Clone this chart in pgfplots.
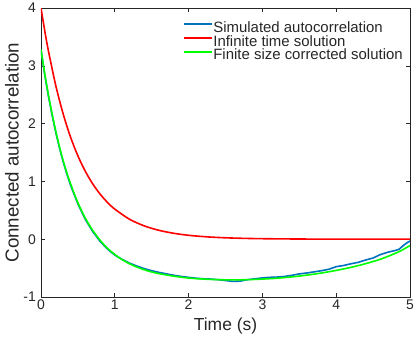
\documentclass[border=0pt]{standalone}
\usepackage{fontspec}
\setmainfont{Liberation Sans}
\usepackage{pgfplots}
\pgfplotsset{compat=1.18}
\definecolor{mblue}{rgb}{0,0.447,0.741}
\definecolor{axgray}{RGB}{38,38,38}
\begin{document}
\begin{tikzpicture}
\useasboundingbox (-41bp,-42bp) rectangle (374bp,297bp);
\begin{axis}[
  scale only axis, width=369bp, height=289bp,
  xmin=0, xmax=5, ymin=-1, ymax=4,
  xtick={0,1,2,3,4,5}, ytick={-1,0,1,2,3,4},
  tick align=inside, major tick length=4bp,
  axis line style={axgray, line width=0.6bp},
  every tick/.style={axgray, line width=0.6bp},
  tick label style={font=\fontsize{14}{16}\selectfont, text=axgray},
  /pgf/number format/assume math mode=true,
  xticklabel style={inner sep=0pt, anchor=north, yshift=-3bp},
  yticklabel style={inner sep=0pt, anchor=east, xshift=-5bp},
  xlabel={Time (s)}, ylabel={Connected autocorrelation},
  xlabel style={at={(axis description cs:0.5,-0.0727)}, anchor=north, inner sep=0pt,
    font=\fontsize{17.5}{20}\selectfont, text=axgray},
  ylabel style={at={(axis description cs:-0.0786,0.5)}, anchor=center, inner sep=0pt,
    font=\fontsize{18.8}{21}\selectfont, text=axgray},
  legend style={at={(rel axis cs:0.385,0.952)}, anchor=north west, draw=none, fill=none,
    inner sep=0pt, row sep=0pt, font=\fontsize{15}{17}\selectfont, text=axgray,
    nodes={inner sep=0.5bp, text height=9.8bp, text depth=3bp}},
  legend cell align=left,
  legend image code/.code={\draw[#1, line width=1.6bp] (0bp,4.8bp) -- (28bp,4.8bp);},
]
\addplot[mblue, line width=1.6bp] coordinates {
(0,3.28)(0.05,2.85)(0.1,2.48)(0.15,2.15)(0.2,1.85)(0.25,1.58)(0.3,1.34)(0.35,1.13)
(0.4,0.935)(0.5,0.61)(0.6,0.345)(0.7,0.135)(0.8,-0.035)(0.9,-0.17)(1.0,-0.275)
(1.1,-0.35)(1.2,-0.415)(1.3,-0.465)(1.4,-0.51)(1.5,-0.545)(1.6,-0.575)(1.7,-0.60)
(1.8,-0.625)(1.9,-0.645)(2.0,-0.66)(2.1,-0.675)(2.2,-0.685)(2.3,-0.69)(2.4,-0.70)
(2.5,-0.715)(2.6,-0.73)(2.7,-0.725)(2.8,-0.70)(2.9,-0.685)(3.0,-0.67)(3.1,-0.66)
(3.2,-0.655)(3.3,-0.645)(3.4,-0.625)(3.5,-0.60)(3.6,-0.585)(3.7,-0.565)(3.8,-0.545)
(3.9,-0.52)(4.0,-0.475)(4.1,-0.455)(4.2,-0.425)(4.3,-0.40)(4.4,-0.36)(4.5,-0.325)
(4.6,-0.265)(4.7,-0.225)(4.8,-0.195)(4.85,-0.175)(4.9,-0.12)(4.95,-0.07)(5.0,-0.03)};
\addlegendentry{Simulated autocorrelation}
\addplot[red, line width=1.6bp, smooth] coordinates {
(0,4.0)(0.05,3.612)(0.1,3.262)(0.2,2.659)(0.3,2.169)(0.4,1.768)(0.5,1.442)(0.6,1.176)
(0.7,0.959)(0.8,0.782)(0.9,0.637)(1.0,0.520)(1.2,0.345)(1.4,0.230)(1.6,0.153)
(1.8,0.102)(2.0,0.0675)(2.25,0.0405)(2.5,0.0243)(2.75,0.0146)(3.0,0.0088)(3.5,0.0032)
(4.0,0.0011)(4.5,0.0004)(5.0,0.0001)};
\addlegendentry{Infinite time solution}
\addplot[green, line width=1.6bp, smooth] coordinates {
(0,3.28)(0.05,2.87)(0.1,2.50)(0.15,2.17)(0.2,1.87)(0.25,1.60)(0.3,1.36)(0.35,1.15)
(0.4,0.96)(0.5,0.63)(0.6,0.365)(0.7,0.153)(0.8,-0.017)(0.9,-0.155)(1.0,-0.265)
(1.1,-0.354)(1.2,-0.426)(1.3,-0.483)(1.4,-0.529)(1.5,-0.567)(1.6,-0.596)(1.8,-0.64)
(2.0,-0.672)(2.2,-0.69)(2.4,-0.70)(2.6,-0.705)(2.8,-0.70)(3.0,-0.69)(3.2,-0.675)
(3.4,-0.652)(3.6,-0.622)(3.8,-0.585)(4.0,-0.54)(4.2,-0.487)(4.4,-0.423)(4.6,-0.346)
(4.8,-0.245)(4.9,-0.183)(5.0,-0.11)};
\addlegendentry{Finite size corrected solution}
\end{axis}
\end{tikzpicture}
\end{document}
